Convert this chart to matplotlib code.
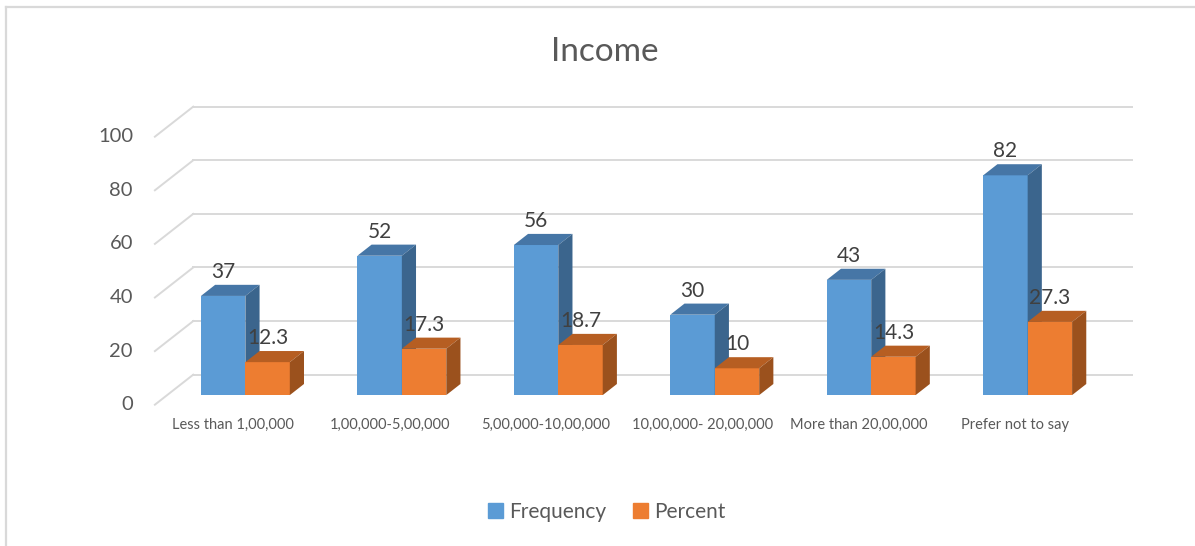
import matplotlib.pyplot as plt
from matplotlib.patches import Polygon, Patch
from matplotlib.lines import Line2D

plt.rcParams['font.family'] = ['Lato', 'DejaVu Sans']

categories = ['Less than 1,00,000', '1,00,000-5,00,000', '5,00,000-10,00,000',
              '10,00,000- 20,00,000', 'More than 20,00,000', 'Prefer not to say']
frequency = [37, 52, 56, 30, 43, 82]
percent = [12.3, 17.3, 18.7, 10, 14.3, 27.3]
yticks = [0, 20, 40, 60, 80, 100]

# colours for front / top / side faces
blue = ('#5b9bd5', '#4676a6', '#3b658d')
orange = ('#ed7d31', '#b65e22', '#9b511d')
grid_c = '#d9d9d9'
text_c = '#595959'

# oblique projection of depth onto the 2d axes (data units)
DX, DY = 0.245, 11.2
D0, D1 = 0.32, 0.69     # bar depth range
W = 0.284               # bar width

fig = plt.figure(figsize=(11.95, 5.46), dpi=100)
ax = fig.add_axes([0, 0, 1, 1])
ax.set_xlim(-1.49, 6.148)
ax.set_ylim(-52.72, 151.0)
ax.axis('off')

# outer frame (top and left only)
fig.add_artist(Line2D([0.005, 1], [1 - 7 / 546, 1 - 7 / 546], transform=fig.transFigure,
                      color=grid_c, lw=1.6))
fig.add_artist(Line2D([0.005, 0.005], [0, 1 - 7 / 546], transform=fig.transFigure,
                      color=grid_c, lw=1.6))

x0, x1 = -0.5, len(categories) - 0.5
for t in yticks:
    # back wall gridline and diagonal on the side wall
    ax.plot([x0 + DX, x1 + DX], [t + DY, t + DY], color=grid_c, lw=1.4, zorder=1)
    ax.plot([x0, x0 + DX], [t, t + DY], color=grid_c, lw=1.4, zorder=1)
    ax.text(x0 - 0.14, t, str(t), ha='right', va='center', fontsize=14.5, color=text_c)


def bar3d(xl, v, cols, z):
    fx, fy = xl + D0 * DX, D0 * DY
    bx, by = xl + D1 * DX, D1 * DY
    ax.bar(fx, v, W, bottom=fy, align='edge', color=cols[0], lw=0, zorder=z)
    top = [(fx, fy + v), (fx + W, fy + v), (bx + W, by + v), (bx, by + v)]
    side = [(fx + W, fy), (bx + W, by), (bx + W, by + v), (fx + W, fy + v)]
    ax.add_patch(Polygon(top, closed=True, fc=cols[1], lw=0, zorder=z))
    ax.add_patch(Polygon(side, closed=True, fc=cols[2], lw=0, zorder=z))
    ax.text(fx + W / 2, fy + v + 9.0, f'{v:g}', ha='center', va='center',
            fontsize=15, color='#404040', zorder=20)


for i, (f, p) in enumerate(zip(frequency, percent)):
    bar3d(i - W, f, blue, 3 + 2 * i)
    bar3d(i, p, orange, 4 + 2 * i)
    ax.text(i, -7.6, categories[i], ha='center', va='center', fontsize=10.5, color=text_c)

ax.text(2.377, 131.6, 'Income', ha='center', va='center', fontsize=24, color=text_c)

handles = [Patch(color=blue[0], label='Frequency'), Patch(color=orange[0], label='Percent')]
fig.legend(handles=handles, loc='center', bbox_to_anchor=(0.508, 1 - 512 / 546), ncol=2,
           frameon=False, fontsize=15, labelcolor=text_c, handlelength=0.7,
           handleheight=0.7, handletextpad=0.3, columnspacing=1.3)

fig.savefig('out.png', dpi=100)
